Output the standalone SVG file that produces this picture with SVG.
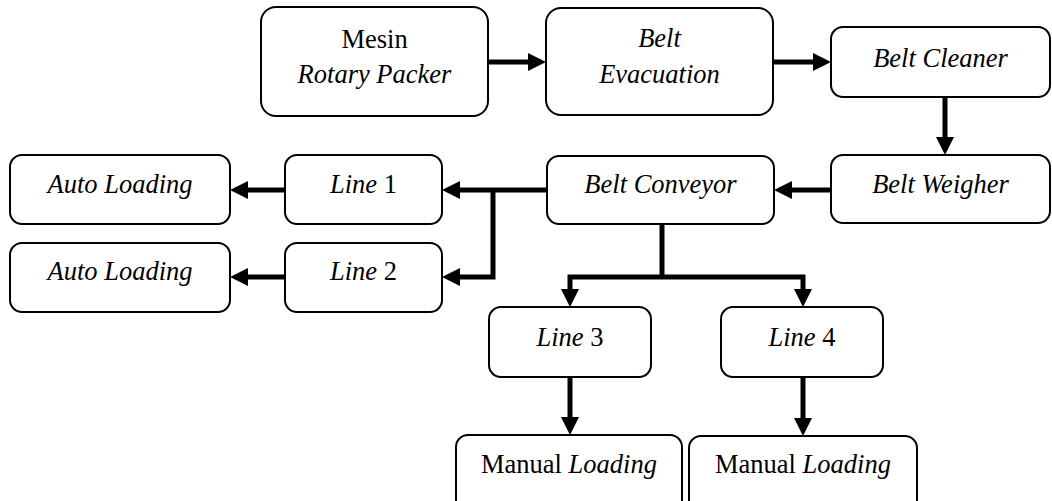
<svg xmlns="http://www.w3.org/2000/svg" width="1052" height="501" viewBox="0 0 1052 501">
<style>
.box{fill:#fff;stroke:#000;stroke-width:2}
.t{font-family:"Liberation Serif","Times New Roman",serif;font-size:26.5px;fill:#000;text-anchor:middle}
.i{font-style:italic}
.c{fill:none;stroke:#000;stroke-width:5;marker-end:url(#ah)}
.cn{fill:none;stroke:#000;stroke-width:5}
</style>
<defs>
<marker id="ah" markerUnits="userSpaceOnUse" markerWidth="18" markerHeight="18" refX="8" refY="9" orient="auto">
<path d="M0,0 L18,9 L0,18 z" fill="#000"/>
</marker>
</defs>
<g id="connectors">
<path class="c" d="M488,62 H536"/>
<path class="c" d="M773,62 H821"/>
<path class="c" d="M945,97 V145"/>
<path class="c" d="M831,190 H784"/>
<path class="c" d="M547,190 H452"/>
<path class="c" d="M493,190 V277 H452"/>
<path class="c" d="M285,190 H240"/>
<path class="c" d="M285,277 H240"/>
<path class="cn" d="M662,224 V277"/>
<path class="c" d="M662,277 H570 V297"/>
<path class="c" d="M662,277 H803 V297"/>
<path class="c" d="M570,377 V425"/>
<path class="c" d="M803,377 V426"/>
</g>
<g id="n-mesin">
<rect class="box" x="261" y="7" width="227" height="109" rx="15"/>
<text class="t" x="374.5" y="48">Mesin</text>
<text class="t i" x="374.5" y="83">Rotary Packer</text>
</g>
<g id="n-evac">
<rect class="box" x="546" y="8" width="227" height="107" rx="15"/>
<text class="t i" x="659.5" y="47">Belt</text>
<text class="t i" x="659.5" y="83">Evacuation</text>
</g>
<g id="n-cleaner">
<rect class="box" x="831" y="27" width="219" height="70" rx="12"/>
<text class="t i" x="940.5" y="67">Belt Cleaner</text>
</g>
<g id="n-weigher">
<rect class="box" x="831" y="155" width="219" height="68" rx="12"/>
<text class="t i" x="940.5" y="193">Belt Weigher</text>
</g>
<g id="n-conveyor">
<rect class="box" x="547" y="156" width="227" height="68" rx="12"/>
<text class="t i" x="660.5" y="193">Belt Conveyor</text>
</g>
<g id="n-line1">
<rect class="box" x="285" y="155" width="157" height="69" rx="12"/>
<text class="t" x="363.5" y="193"><tspan class="i">Line</tspan> 1</text>
</g>
<g id="n-line2">
<rect class="box" x="285" y="243" width="157" height="69" rx="12"/>
<text class="t" x="363.5" y="280"><tspan class="i">Line</tspan> 2</text>
</g>
<g id="n-auto1">
<rect class="box" x="10" y="155" width="220" height="69" rx="12"/>
<text class="t i" x="120" y="193">Auto Loading</text>
</g>
<g id="n-auto2">
<rect class="box" x="10" y="243" width="220" height="69" rx="12"/>
<text class="t i" x="120" y="280">Auto Loading</text>
</g>
<g id="n-line3">
<rect class="box" x="489" y="307" width="162" height="70" rx="12"/>
<text class="t" x="570" y="346"><tspan class="i">Line</tspan> 3</text>
</g>
<g id="n-line4">
<rect class="box" x="721" y="307" width="162" height="70" rx="12"/>
<text class="t" x="802" y="346"><tspan class="i">Line</tspan> 4</text>
</g>
<g id="n-manual1">
<rect class="box" x="456" y="435" width="226" height="80" rx="12"/>
<text class="t" x="569" y="473">Manual <tspan class="i">Loading</tspan></text>
</g>
<g id="n-manual2">
<rect class="box" x="689" y="436" width="228" height="80" rx="12"/>
<text class="t" x="803" y="473">Manual <tspan class="i">Loading</tspan></text>
</g>
</svg>
